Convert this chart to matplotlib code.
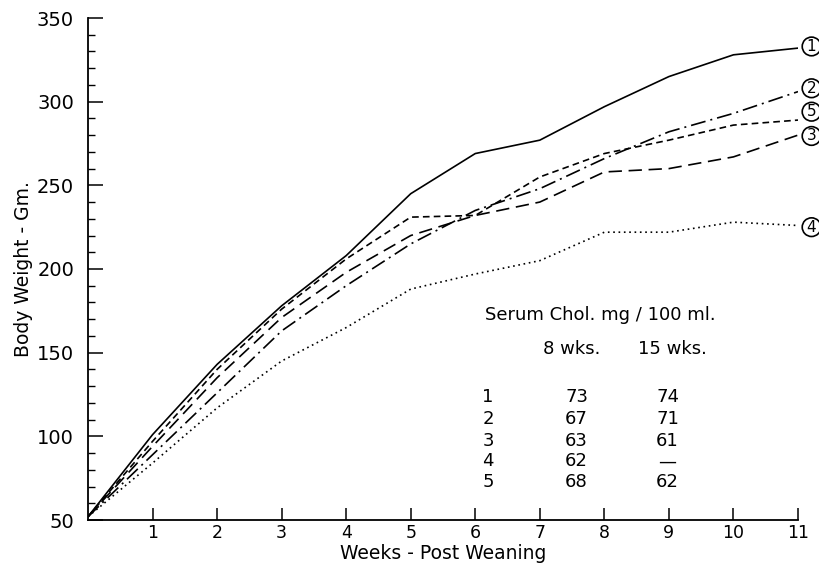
"""Body weight growth curves, five groups, with serum cholesterol table."""

import matplotlib.pyplot as plt
from matplotlib.ticker import MultipleLocator

WEEKS = list(range(12))

# body weight (gm) per group, weeks 0..11
GROUP_1 = [52, 101, 143, 178, 208, 245, 269, 277, 297, 315, 328, 332]
GROUP_2 = [52, 89, 126, 163, 190, 215, 235, 248, 266, 282, 293, 306]
GROUP_3 = [52, 94, 135, 171, 198, 220, 232, 240, 258, 260, 267, 280]
GROUP_4 = [52, 84, 117, 145, 165, 188, 197, 205, 222, 222, 228, 226]
GROUP_5 = [52, 97, 140, 176, 206, 231, 232, 255, 269, 277, 286, 289]

GROUP_NAMES = ["1", "2", "3", "4", "5"]
CHOL_8WK = ["73", "67", "63", "62", "68"]
CHOL_15WK = ["74", "71", "61", "\u2014", "62"]

# where the circled group labels sit at the right end
LABEL_Y = {"1": 333, "2": 308, "5": 294, "3": 279.5, "4": 225}


def main():
    plt.rcParams["font.family"] = "DejaVu Sans"
    fig = plt.figure(figsize=(8.19, 5.67), dpi=100)
    ax = fig.add_axes([88 / 819, 47 / 567, 710 / 819, 502 / 567])

    series = [
        (GROUP_1, "-"),
        (GROUP_2, (0, (9, 3, 1.2, 3))),
        (GROUP_3, (0, (8, 4))),
        (GROUP_4, (0, (1, 2.2))),
        (GROUP_5, (0, (4, 2.5))),
    ]
    for vals, ls in series:
        ax.plot(WEEKS, vals, color="black", linestyle=ls, linewidth=1.2)

    ax.set_xlim(0, 11)
    ax.set_ylim(50, 350)
    ax.spines["top"].set_visible(False)
    ax.spines["right"].set_visible(False)
    for sp in ("left", "bottom"):
        ax.spines[sp].set_linewidth(1.3)

    ax.set_xticks(range(1, 12))
    ax.set_xticklabels([str(i) for i in range(1, 12)])
    ax.set_yticks(range(50, 351, 50))
    ax.yaxis.set_minor_locator(MultipleLocator(10))
    ax.tick_params(axis="x", direction="in", length=9, width=1.1,
                   labelsize=12.5, pad=3)
    ax.tick_params(axis="y", which="major", direction="in", length=11,
                   width=1.1, labelsize=14, pad=10)
    ax.tick_params(axis="y", which="minor", direction="in", length=5,
                   width=1.0)

    ax.set_xlabel("Weeks - Post Weaning", fontsize=13.5, labelpad=1)
    ax.set_ylabel("Body Weight - Gm.", fontsize=13.5, labelpad=3)

    for name, y in LABEL_Y.items():
        ax.text(11.21, y, name, ha="center", va="center", fontsize=11,
                clip_on=False,
                bbox=dict(boxstyle="circle,pad=0.12", fc="white",
                          ec="black", lw=1.2))

    # serum cholesterol table
    ax.text(7.94, 172.5, "Serum Chol. mg / 100 ml.", ha="center",
            va="center", fontsize=13)
    ax.text(7.5, 152, "8 wks.", ha="center", va="center", fontsize=13)
    ax.text(9.05, 152, "15 wks.", ha="center", va="center", fontsize=13)
    row_y = [123.5, 110.5, 97, 85, 72.5]
    for name, c8, c15, y in zip(GROUP_NAMES, CHOL_8WK, CHOL_15WK, row_y):
        ax.text(6.2, y, name, ha="center", va="center", fontsize=13)
        ax.text(7.57, y, c8, ha="center", va="center", fontsize=13)
        ax.text(8.98, y, c15, ha="center", va="center", fontsize=13)

    fig.savefig("out.png", dpi=100)
    plt.close(fig)


if __name__ == "__main__":
    main()
